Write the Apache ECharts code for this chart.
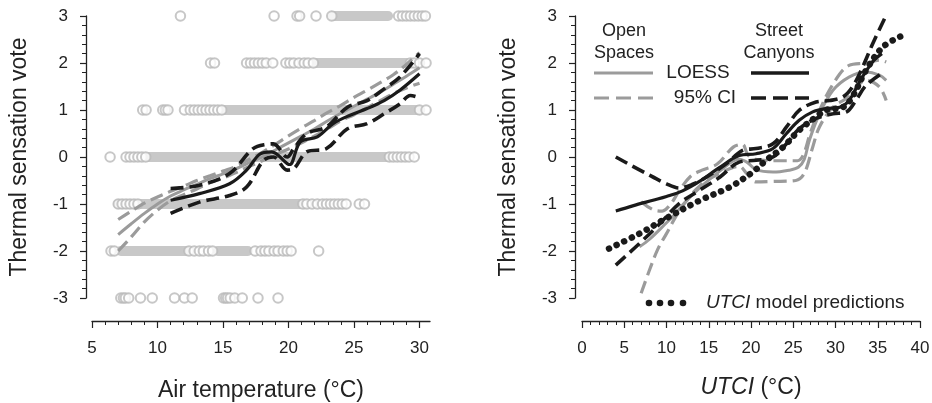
<!DOCTYPE html>
<html>
<head>
<meta charset="utf-8">
<script src="https://cdn.jsdelivr.net/npm/echarts@6/dist/echarts.min.js"></script>
<style>
html,body{margin:0;padding:0;background:#fff;}
#main{width:932px;height:403px;}
</style>
</head>
<body>
<div id="main"></div>
<script>
// ---- left panel: individual votes (air temperature of each visible circle, per vote level)
var votes3 = [11.75, 18.9, 20.65, 20.85, 22.1, 23.3, 28.4, 28.7, 29.0, 29.3, 29.6, 29.9, 30.2, 30.45];
var votes2 = [14.05, 14.35, 16.8, 17.1, 17.4, 17.7, 18.0, 18.3, 18.8, 19.8, 20.1, 20.4, 20.8, 21.2, 21.5, 21.9, 29.3, 29.6, 30.0, 30.5];
var votes1 = [8.87, 9.13, 10.4, 10.6, 10.8, 12.06, 12.5, 12.8, 13.1, 13.4, 13.7, 14.0, 14.3, 14.6, 14.9, 30.0, 30.5];
var votes0 = [6.38, 7.6, 7.9, 8.2, 8.5, 8.8, 9.1, 27.7, 28.0, 28.3, 28.6, 28.9, 29.2, 29.6];
var votesM1 = [7.0, 7.3, 7.6, 7.9, 8.2, 8.5, 21.1, 21.4, 21.8, 22.2, 22.6, 22.9, 23.2, 23.5, 23.8, 24.1, 24.4, 25.4, 25.8];
var votesM2 = [6.45, 6.7, 12.4, 12.8, 13.2, 13.5, 13.9, 14.2, 17.45, 17.9, 18.2, 18.5, 18.9, 19.2, 19.6, 19.9, 20.2, 22.3];
var votesM3 = [7.2, 7.4, 7.55, 7.8, 8.7, 9.6, 11.3, 12.06, 12.65, 15.04, 15.2, 15.35, 15.55, 15.9, 16.47, 17.67, 19.2];
// dense runs where circles merge into a solid strip: [level, from, to]
var denseRuns = [
  [3, 23.4, 27.6], [2, 22.1, 29.0], [1, 15.0, 29.9], [0, 9.3, 27.5],
  [-1, 7.0, 20.9], [-2, 7.2, 12.2], [-2, 14.6, 16.9]
];

// ---- left panel LOESS fits
var openLoess = [[7,-1.65],[8,-1.42],[9,-1.2],[10,-1.0],[11,-0.83],[12,-0.7],[13,-0.58],[14,-0.46],[15,-0.36],[16,-0.25],[17,-0.12],[18,0.0],[19,0.15],[20,0.3],[21,0.45],[22,0.6],[23,0.77],[24,0.93],[25,1.08],[26,1.23],[27,1.38],[28,1.55],[29,1.72],[30,1.9]];
var openUpper = [[7,-1.33],[8,-1.15],[9,-0.98],[10,-0.85],[11,-0.73],[12,-0.62],[13,-0.5],[14,-0.4],[15,-0.3],[16,-0.2],[17,-0.05],[18,0.1],[19,0.27],[20,0.45],[21,0.62],[22,0.78],[23,0.95],[24,1.1],[25,1.27],[26,1.42],[27,1.58],[28,1.75],[29,1.97],[30,2.22]];
var openLower = [[7,-2.0],[8,-1.7],[9,-1.38],[10,-1.13],[11,-0.93],[12,-0.8],[13,-0.68],[14,-0.55],[15,-0.45],[16,-0.33],[17,-0.2],[18,-0.08],[19,0.05],[20,0.17],[21,0.3],[22,0.45],[23,0.6],[24,0.77],[25,0.9],[26,1.05],[27,1.2],[28,1.35],[29,1.47],[30,1.57]];
var streetLoess = [[11,-0.92],[13.2,-0.78],[15.5,-0.57],[16.8,-0.28],[17.8,0.06],[18.7,0.11],[19.9,-0.14],[20.1,-0.16],[20.9,0.32],[22.2,0.43],[23.4,0.71],[24.7,0.89],[26,1.03],[27.3,1.2],[28.5,1.42],[30,1.77]];
var streetUpper = [[11,-0.67],[13.2,-0.6],[15.5,-0.35],[17.3,0.18],[18.3,0.27],[18.85,0.28],[19.9,0.0],[20.4,0.18],[21.4,0.5],[22.9,0.64],[24.5,1.06],[26,1.2],[27.3,1.45],[28.5,1.7],[30,2.2]];
var streetLower = [[11,-1.2],[13.2,-0.96],[15.5,-0.82],[16.8,-0.64],[18.1,-0.07],[18.85,0.0],[19.9,-0.28],[20.4,-0.25],[21.4,0.11],[22.9,0.18],[24.5,0.6],[26,0.71],[27.3,0.92],[28.5,1.13],[29.3,1.31],[30,1.26]];

// ---- right panel (UTCI)
var utciModel = [[3.2,-1.95],[6.8,-1.63],[10,-1.3],[14,-0.92],[17.5,-0.64],[20.2,-0.32],[21.8,-0.07],[23.8,0.21],[25.7,0.57],[27.7,0.85],[28.9,1.0],[30.9,1.06],[32,1.28],[33.6,1.84],[35.6,2.34],[37.75,2.57]];
var openLoessU = [[6.8,-1.91],[8,-1.75],[10,-1.4],[11,-1.22],[12,-1.0],[13.9,-0.66],[16.3,-0.3],[18.6,-0.05],[19.6,-0.12],[20.6,-0.27],[22.6,-0.32],[24.5,-0.28],[25.6,-0.22],[26.3,-0.05],[26.9,0.35],[28.1,0.92],[29.7,1.42],[31.6,1.7],[33.6,1.81],[35.2,1.74],[36,1.63]];
var openUpperU = [[7,-0.95],[8.4,-1.12],[9.5,-1.15],[10.5,-1.0],[11.5,-0.72],[12.8,-0.42],[14.2,-0.28],[16,-0.15],[17.9,0.21],[19.0,0.27],[19.6,0.05],[20.5,-0.05],[23,-0.08],[25.5,-0.08],[26.2,0.05],[27,0.5],[28,0.95],[29.7,1.55],[31.6,1.95],[33.6,2.0],[35.2,2.06],[36,2.02]];
var openLowerU = [[7,-2.9],[8,-2.4],[9,-1.95],[10,-1.63],[11,-1.3],[12,-1.02],[13.9,-0.62],[16.3,-0.35],[18.6,-0.2],[19.5,-0.35],[20.6,-0.53],[22.6,-0.52],[25.3,-0.5],[26.3,-0.35],[27.3,0.21],[28.1,0.64],[29.7,1.06],[31.6,1.28],[33.6,1.63],[35.2,1.49],[36,1.2]];
var streetLoessU = [[4,-1.15],[6,-1.04],[8.4,-0.92],[10,-0.84],[11.9,-0.72],[13.9,-0.52],[16.3,-0.22],[18.6,0.03],[20.6,0.07],[22.6,0.18],[24.2,0.5],[25.7,0.78],[27.3,0.96],[28.9,1.03],[30.5,1.06],[31.6,1.2],[33,1.65],[34.5,2.05],[35.5,2.2]];
var streetUpperU = [[4,0],[7.6,-0.35],[10,-0.57],[11.5,-0.66],[13.1,-0.58],[14.7,-0.43],[17.1,-0.14],[19,0.14],[20.6,0.18],[22.6,0.28],[24.2,0.64],[25.7,0.99],[27.7,1.17],[29.3,1.2],[30.9,1.28],[32,1.49],[33.2,1.91],[34.4,2.41],[35.9,2.98]];
var streetLowerU = [[4,-2.3],[6.8,-1.84],[9.2,-1.42],[11.5,-0.99],[13.9,-0.71],[16.3,-0.43],[18.6,-0.11],[20.6,-0.07],[22.6,0],[24.2,0.28],[25.7,0.6],[27.7,0.82],[29.7,0.92],[31.3,0.96],[32.4,1.2],[33.6,1.52],[35.5,1.78]];

// tick values
var airMajorTicks = [5, 10, 15, 20, 25, 30];
var airMinorTicks = [5,6,7,8,9,10,11,12,13,14,15,16,17,18,19,20,21,22,23,24,25,26,27,28,29,30];

var FONT = 'Liberation Sans, Arial, sans-serif';
var INK = '#222';
var GREY_PT = '#b9b9b9';
var GREY_LN = '#9b9b9b';
var BLACK = '#1a1a1a';

var chart = echarts.init(document.getElementById('main'));

function yAxisCfg(grid, off) {
  return {
    type: 'value', gridIndex: grid, position: 'left', min: -3, max: 3, interval: 1, offset: off,
    axisLine: {show: true, onZero: false, lineStyle: {color: INK, width: 1.3}},
    axisTick: {show: true, length: 6, lineStyle: {color: INK, width: 1.2}},
    minorTick: {show: true, splitNumber: 5, length: 4, lineStyle: {color: INK, width: 1}},
    splitLine: {show: false},
    axisLabel: {margin: 18, fontSize: 17, color: INK, fontFamily: FONT},
    name: 'Thermal sensation vote', nameLocation: 'middle', nameGap: 55,
    nameTextStyle: {fontSize: 23, color: INK, fontFamily: FONT}
  };
}

var series = [];
// grey strips for dense runs
denseRuns.forEach(function (r) {
  series.push({
    type: 'line', xAxisIndex: 0, yAxisIndex: 0, symbol: 'none', silent: true, z: 1,
    data: [[r[1], r[0]], [r[2], r[0]]],
    lineStyle: {color: '#c8c8c8', width: 10, cap: 'round'}
  });
});
var pts = [];
[[3, votes3], [2, votes2], [1, votes1], [0, votes0], [-1, votesM1], [-2, votesM2], [-3, votesM3]].forEach(function (lv) {
  lv[1].forEach(function (t) { pts.push([t, lv[0]]); });
});
series.push({
  type: 'scatter', xAxisIndex: 0, yAxisIndex: 0, symbol: 'emptyCircle', symbolSize: 9.5, z: 2,
  data: pts, itemStyle: {color: GREY_PT, borderColor: GREY_PT, borderWidth: 1.1}
});

function curve(data, xi, yi, color, dashed, width) {
  return {
    type: 'line', xAxisIndex: xi, yAxisIndex: yi, data: data, symbol: 'none', smooth: 0.35, z: 5,
    lineStyle: {color: color, width: width, type: dashed ? [13, 6] : 'solid', cap: 'butt'}
  };
}
series.push(curve(openUpper, 0, 0, GREY_LN, true, 3.2));
series.push(curve(openLower, 0, 0, GREY_LN, true, 3.2));
series.push(curve(openLoess, 0, 0, GREY_LN, false, 3));
series.push(curve(streetUpper, 0, 0, BLACK, true, 3.6));
series.push(curve(streetLower, 0, 0, BLACK, true, 3.6));
series.push(curve(streetLoess, 0, 0, BLACK, false, 3.2));

series.push(curve(openUpperU, 2, 1, GREY_LN, true, 3.2));
series.push(curve(openLowerU, 2, 1, GREY_LN, true, 3.2));
series.push(curve(openLoessU, 2, 1, GREY_LN, false, 3));
series.push({
  type: 'line', xAxisIndex: 2, yAxisIndex: 1, data: utciModel, symbol: 'none', smooth: 0.35, z: 6,
  lineStyle: {color: BLACK, width: 6.5, type: [0.1, 8.3], cap: 'round'}
});
series.push(curve(streetUpperU, 2, 1, BLACK, true, 3.6));
series.push(curve(streetLowerU, 2, 1, BLACK, true, 3.6));
series.push(curve(streetLoessU, 2, 1, BLACK, false, 3.2));

var option = {
  animation: false,
  backgroundColor: '#fff',
  grid: [
    {left: 92, right: 502, top: 16, bottom: 105, outerBoundsMode: 'none'},
    {left: 582, right: 12, top: 16, bottom: 105, outerBoundsMode: 'none'}
  ],
  xAxis: [
    {
      type: 'value', gridIndex: 0, position: 'bottom', min: 5, max: 30.8, interval: 5, offset: 23,
      axisLine: {show: true, onZero: false, lineStyle: {color: INK, width: 1.3}},
      axisTick: {show: true, length: 7, customValues: airMajorTicks, lineStyle: {color: INK, width: 1.2}},
      splitLine: {show: false},
      axisLabel: {margin: 19, fontSize: 17, color: INK, fontFamily: FONT, customValues: airMajorTicks},
      name: 'Air temperature (°C)', nameLocation: 'middle', nameGap: 58,
      nameTextStyle: {fontSize: 23, color: INK, fontFamily: FONT}
    },
    {
      type: 'value', gridIndex: 0, position: 'bottom', min: 5, max: 30.8, offset: 23,
      axisLine: {show: false, onZero: false},
      axisTick: {show: true, length: 4, customValues: airMinorTicks, lineStyle: {color: INK, width: 1}},
      axisLabel: {show: false}, splitLine: {show: false}
    },
    {
      type: 'value', gridIndex: 1, position: 'bottom', min: 0, max: 40, interval: 5, offset: 23,
      axisLine: {show: true, onZero: false, lineStyle: {color: INK, width: 1.3}},
      axisTick: {show: true, length: 7, lineStyle: {color: INK, width: 1.2}},
      minorTick: {show: true, splitNumber: 5, length: 4, lineStyle: {color: INK, width: 1}},
      splitLine: {show: false},
      axisLabel: {margin: 19, fontSize: 17, color: INK, fontFamily: FONT},
      name: '{i|UTCI} (°C)', nameLocation: 'middle', nameGap: 55,
      nameTextStyle: {fontSize: 23, color: INK, fontFamily: FONT,
        rich: {i: {fontSize: 23, fontStyle: 'italic', color: INK, fontFamily: FONT}}}
    }
  ],
  yAxis: [yAxisCfg(0, 6), yAxisCfg(1, 7)],
  series: series,
  graphic: [
    {type: 'text', x: 624, y: 20, style: {text: 'Open\nSpaces', fill: INK, font: '18px ' + FONT, align: 'center', lineHeight: 22}},
    {type: 'text', x: 779, y: 20, style: {text: 'Street\nCanyons', fill: INK, font: '18px ' + FONT, align: 'center', lineHeight: 22}},
    {type: 'line', shape: {x1: 594, y1: 73, x2: 653, y2: 73}, style: {stroke: GREY_LN, lineWidth: 3.2}},
    {type: 'text', x: 698, y: 73, style: {text: 'LOESS', fill: INK, font: '19px ' + FONT, align: 'center', verticalAlign: 'middle'}},
    {type: 'line', shape: {x1: 751, y1: 73, x2: 809, y2: 73}, style: {stroke: BLACK, lineWidth: 3.6}},
    {type: 'line', shape: {x1: 594, y1: 98, x2: 653, y2: 98}, style: {stroke: GREY_LN, lineWidth: 3.2, lineDash: [15, 7]}},
    {type: 'text', x: 705, y: 98, style: {text: '95% CI', fill: INK, font: '19px ' + FONT, align: 'center', verticalAlign: 'middle'}},
    {type: 'line', shape: {x1: 751, y1: 98, x2: 809, y2: 98}, style: {stroke: BLACK, lineWidth: 3.6, lineDash: [15, 7]}},
    {type: 'circle', shape: {cx: 649, cy: 303, r: 3.3}, style: {fill: BLACK}},
    {type: 'circle', shape: {cx: 660, cy: 303, r: 3.3}, style: {fill: BLACK}},
    {type: 'circle', shape: {cx: 671, cy: 303, r: 3.3}, style: {fill: BLACK}},
    {type: 'circle', shape: {cx: 683, cy: 303, r: 3.3}, style: {fill: BLACK}},
    {type: 'text', x: 706, y: 303, style: {
      text: '{i|UTCI} model predictions', fill: INK, font: '19px ' + FONT, verticalAlign: 'middle',
      rich: {i: {fontStyle: 'italic', fontSize: 19, fontFamily: FONT, fill: INK}}
    }}
  ]
};
chart.setOption(option);
</script>
</body>
</html>
